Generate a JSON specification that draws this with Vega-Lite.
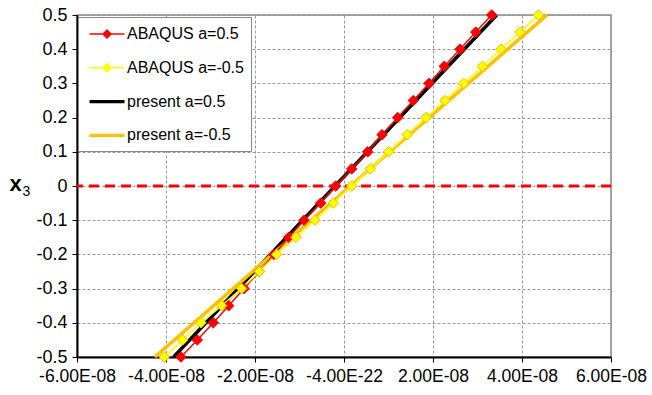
{
  "$schema": "https://vega.github.io/schema/vega-lite/v6.json",
  "autosize": {"type": "none"},
  "padding": {"left": 77, "top": 15, "right": 41, "bottom": 38},
  "width": 534,
  "height": 342,
  "background": "white",
  "config": {
    "view": {"stroke": "#888888", "strokeWidth": 1.5},
    "axis": {
      "labelFont": "Liberation Sans",
      "labelFontSize": 18,
      "labelColor": "#000000",
      "labelOverlap": false,
      "labelFlush": false,
      "labelBound": false,
      "gridColor": "#999999",
      "gridDash": [3, 2],
      "gridWidth": 1,
      "domainColor": "#000000",
      "domainWidth": 2,
      "tickColor": "#000000",
      "tickSize": 5,
      "tickWidth": 1
    },
    "legend": {
      "orient": "none",
      "legendX": 1,
      "legendY": 2,
      "padding": 7,
      "symbolOffset": 12,
      "rowPadding": 15.8,
      "labelFont": "Liberation Sans",
      "labelFontSize": 16,
      "labelColor": "#000000",
      "labelOffset": 10,
      "strokeColor": "#888888",
      "fillColor": "#ffffff",
      "symbolSize": 400,
      "symbolStrokeWidth": 0
    }
  },
  "resolve": {"axis": {"y": "independent"}},
  "datasets": {
    "zero": [{"y0": 0}],
    "pts": [
      {"series": "ABAQUS a=0.5", "x": -3.663e-8, "y": -0.5},
      {"series": "ABAQUS a=0.5", "x": -3.297e-8, "y": -0.45},
      {"series": "ABAQUS a=0.5", "x": -2.937e-8, "y": -0.4},
      {"series": "ABAQUS a=0.5", "x": -2.591e-8, "y": -0.35},
      {"series": "ABAQUS a=0.5", "x": -2.247e-8, "y": -0.3},
      {"series": "ABAQUS a=0.5", "x": -1.903e-8, "y": -0.25},
      {"series": "ABAQUS a=0.5", "x": -1.573e-8, "y": -0.2},
      {"series": "ABAQUS a=0.5", "x": -1.243e-8, "y": -0.15},
      {"series": "ABAQUS a=0.5", "x": -0.899e-8, "y": -0.1},
      {"series": "ABAQUS a=0.5", "x": -0.524e-8, "y": -0.05},
      {"series": "ABAQUS a=0.5", "x": -0.187e-8, "y": 0},
      {"series": "ABAQUS a=0.5", "x": 0.173e-8, "y": 0.05},
      {"series": "ABAQUS a=0.5", "x": 0.533e-8, "y": 0.1},
      {"series": "ABAQUS a=0.5", "x": 0.854e-8, "y": 0.15},
      {"series": "ABAQUS a=0.5", "x": 1.207e-8, "y": 0.2},
      {"series": "ABAQUS a=0.5", "x": 1.557e-8, "y": 0.25},
      {"series": "ABAQUS a=0.5", "x": 1.910e-8, "y": 0.3},
      {"series": "ABAQUS a=0.5", "x": 2.254e-8, "y": 0.35},
      {"series": "ABAQUS a=0.5", "x": 2.607e-8, "y": 0.4},
      {"series": "ABAQUS a=0.5", "x": 2.960e-8, "y": 0.45},
      {"series": "ABAQUS a=0.5", "x": 3.319e-8, "y": 0.5},
      {"series": "ABAQUS a=-0.5", "x": -4.038e-8, "y": -0.5},
      {"series": "ABAQUS a=-0.5", "x": -3.625e-8, "y": -0.45},
      {"series": "ABAQUS a=-0.5", "x": -3.213e-8, "y": -0.4},
      {"series": "ABAQUS a=-0.5", "x": -2.75e-8, "y": -0.35},
      {"series": "ABAQUS a=-0.5", "x": -2.30e-8, "y": -0.3},
      {"series": "ABAQUS a=-0.5", "x": -1.903e-8, "y": -0.25},
      {"series": "ABAQUS a=-0.5", "x": -1.513e-8, "y": -0.2},
      {"series": "ABAQUS a=-0.5", "x": -1.079e-8, "y": -0.15},
      {"series": "ABAQUS a=-0.5", "x": -0.652e-8, "y": -0.1},
      {"series": "ABAQUS a=-0.5", "x": -0.24e-8, "y": -0.05},
      {"series": "ABAQUS a=-0.5", "x": 0.173e-8, "y": 0},
      {"series": "ABAQUS a=-0.5", "x": 0.592e-8, "y": 0.05},
      {"series": "ABAQUS a=-0.5", "x": 1.004e-8, "y": 0.1},
      {"series": "ABAQUS a=-0.5", "x": 1.423e-8, "y": 0.15},
      {"series": "ABAQUS a=-0.5", "x": 1.843e-8, "y": 0.2},
      {"series": "ABAQUS a=-0.5", "x": 2.270e-8, "y": 0.25},
      {"series": "ABAQUS a=-0.5", "x": 2.689e-8, "y": 0.3},
      {"series": "ABAQUS a=-0.5", "x": 3.109e-8, "y": 0.35},
      {"series": "ABAQUS a=-0.5", "x": 3.528e-8, "y": 0.4},
      {"series": "ABAQUS a=-0.5", "x": 3.955e-8, "y": 0.45},
      {"series": "ABAQUS a=-0.5", "x": 4.37e-8, "y": 0.5}
    ],
    "lines": [
      {"series": "present a=0.5", "x": -3.83e-8, "y": -0.5},
      {"series": "present a=0.5", "x": -0.2e-8, "y": 0},
      {"series": "present a=0.5", "x": 3.43e-8, "y": 0.5},
      {"series": "present a=-0.5", "x": -4.25e-8, "y": -0.5},
      {"series": "present a=-0.5", "x": 0.145e-8, "y": 0},
      {"series": "present a=-0.5", "x": 4.56e-8, "y": 0.5}
    ]
  },
  "layer": [
    {
      "data": {"name": "lines"},
      "mark": {"type": "line", "strokeWidth": 3.5},
      "encoding": {
        "x": {
          "field": "x", "type": "quantitative",
          "scale": {"domain": [-6e-8, 6e-8], "nice": false, "zero": false},
          "axis": {
            "title": null,
            "values": [-6e-8, -4e-8, -2e-8, 0, 2e-8, 4e-8, 6e-8],
            "labelExpr": "abs(datum.value) < 1e-15 ? '-4.00E-22' : (datum.value < 0 ? '-' : '') + format(abs(datum.value) * 1e8, '.2f') + 'E-08'",
            "labelFontSize": 17.5,
            "labelPadding": 5,
            "grid": true
          }
        },
        "y": {
          "field": "y", "type": "quantitative",
          "scale": {"domain": [-0.5, 0.5], "nice": false},
          "axis": {
            "orient": "left",
            "title": "x",
            "titleFont": "Liberation Sans",
            "titleFontSize": 22,
            "titleFontWeight": "bold",
            "titleAngle": 0,
            "titleAlign": "center",
            "titleBaseline": "alphabetic",
            "titleX": -62,
            "titleY": 175,
            "values": [-0.5, -0.4, -0.3, -0.2, -0.1, 0, 0.1, 0.2, 0.3, 0.4, 0.5],
            "labelExpr": "abs(datum.value) < 1e-9 ? '0' : replace(format(datum.value, '.1f'), '−', '-')",
            "labelPadding": 5,
            "grid": true
          }
        },
        "order": {"field": "y", "type": "quantitative"},
        "color": {
          "field": "series", "type": "nominal",
          "scale": {
            "domain": ["ABAQUS a=0.5", "ABAQUS a=-0.5", "present a=0.5", "present a=-0.5"],
            "range": ["#FF0000", "#FFFF00", "#000000", "#FFC000"]
          },
          "legend": {
            "title": null,
            "encode": {
              "symbols": {
                "update": {
                  "shape": {"signal": "indexof(datum.value, 'ABAQUS') === 0 ? 'M-1.75,-0.075L1.75,-0.075L1.75,0.075L-1.75,0.075ZM0,-0.5L0.5,0L0,0.5L-0.5,0Z' : 'M-1.75,-0.17L1.75,-0.17L1.75,0.17L-1.75,0.17Z'"},
                  "fill": {"scale": "color", "field": "value"},
                  "stroke": {"value": "transparent"},
                  "opacity": {"value": 1}
                }
              }
            }
          }
        },
        "strokeWidth": {
          "condition": {"test": "datum.series === 'present a=-0.5'", "value": 4},
          "value": 3
        }
      }
    },
    {
      "data": {"name": "zero"},
      "mark": {"type": "rule", "color": "#FF0000", "strokeWidth": 3, "strokeDash": [10, 6]},
      "encoding": {
        "y": {
          "field": "y0", "type": "quantitative",
          "axis": {
            "orient": "left",
            "offset": 0,
            "title": "3",
            "titleFont": "Liberation Sans",
            "titleFontSize": 14,
            "titleFontWeight": "normal",
            "titleAngle": 0,
            "titleAlign": "center",
            "titleBaseline": "alphabetic",
            "titleX": -51,
            "titleY": 180,
            "labels": false,
            "ticks": false,
            "domain": false,
            "grid": false
          }
        }
      }
    },
    {
      "data": {"name": "pts"},
      "mark": {"type": "line", "strokeWidth": 1.5},
      "encoding": {
        "x": {"field": "x", "type": "quantitative"},
        "y": {"field": "y", "type": "quantitative", "axis": null},
        "order": {"field": "y", "type": "quantitative"},
        "color": {"field": "series", "type": "nominal"}
      }
    },
    {
      "data": {"name": "pts"},
      "mark": {"type": "point", "shape": "diamond", "filled": true, "size": 110, "opacity": 1, "strokeWidth": 1},
      "encoding": {
        "x": {"field": "x", "type": "quantitative"},
        "y": {"field": "y", "type": "quantitative", "axis": null},
        "color": {"field": "series", "type": "nominal"},
        "stroke": {
          "field": "series", "type": "nominal",
          "scale": {"domain": ["ABAQUS a=0.5", "ABAQUS a=-0.5"], "range": ["#FF0000", "#E6C000"]},
          "legend": null
        }
      }
    }
  ]
}
